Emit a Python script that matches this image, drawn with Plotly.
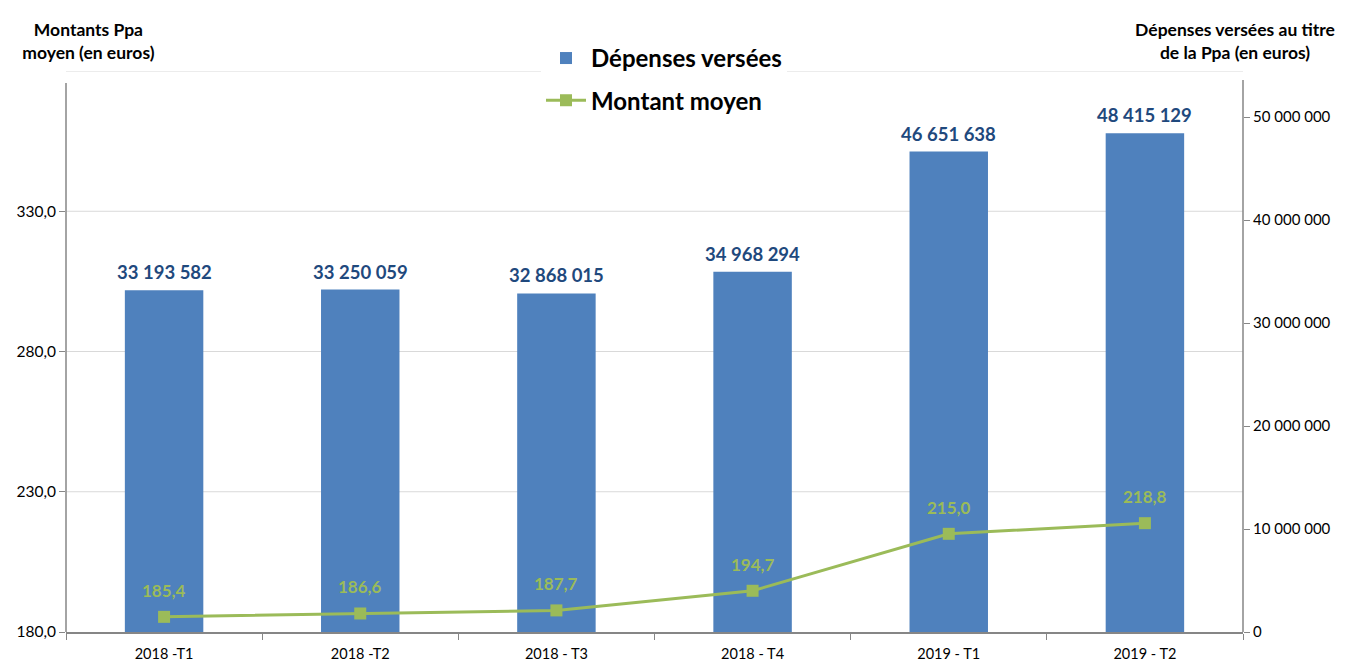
import plotly.graph_objects as go

categories = ["2018 -T1", "2018 -T2", "2018 - T3", "2018 - T4", "2019 - T1", "2019 - T2"]
depenses = [33193582, 33250059, 32868015, 34968294, 46651638, 48415129]
montant_moyen = [185.4, 186.6, 187.7, 194.7, 215.0, 218.8]
left_ticks = [180, 230, 280, 330, 380]
right_ticks = [0, 10000000, 20000000, 30000000, 40000000, 50000000]

BLUE = "#4F81BD"
GREEN = "#9BBB59"
LABEL_BLUE = "#1F497D"
AXIS = "#868686"
GRID = "#D9D9D9"
FONT = "Lato"


def fr_int(v):
    return f"{v:,}".replace(",", " ")


def fr_dec(v):
    return f"{v:.1f}".replace(".", ",")


fig = go.Figure()
fig.add_trace(go.Bar(
    x=categories, y=depenses, name="<b>Dépenses versées</b>",
    marker=dict(color=BLUE, line=dict(width=0)),
    yaxis="y", legendgroup="a",
))
fig.add_trace(go.Scatter(
    x=categories, y=montant_moyen, name="<b>Montant moyen</b>",
    mode="lines+markers",
    line=dict(color=GREEN, width=3),
    marker=dict(symbol="square", size=12, color=GREEN),
    yaxis="y2", legendgroup="b",
))

annotations = []
for c, v in zip(categories, depenses):
    annotations.append(dict(
        x=c, y=v, xref="x", yref="y", text=f"<b>{fr_int(v)}</b>",
        showarrow=False, yanchor="bottom", yshift=5,
        font=dict(family=FONT, size=18.5, color=LABEL_BLUE),
    ))
for c, v in zip(categories, montant_moyen):
    annotations.append(dict(
        x=c, y=v, xref="x", yref="y2", text=f"<b>{fr_dec(v)}</b>",
        showarrow=False, yanchor="bottom", yshift=14,
        font=dict(family=FONT, size=17, color=GREEN),
    ))

annotations.append(dict(
    xref="paper", yref="paper", x=(88 - 66) / 1177, y=(631 - 17) / 560,
    text="<b>Montants Ppa<br>moyen (en euros)</b>", showarrow=False,
    xanchor="center", yanchor="top", align="center",
    font=dict(family=FONT, size=17.5, color="#000000"),
    bgcolor="white", width=185,
))
annotations.append(dict(
    xref="paper", yref="paper", x=(1235 - 66) / 1177, y=(631 - 17) / 560,
    text="<b>Dépenses versées au titre<br>de la Ppa (en euros)</b>", showarrow=False,
    xanchor="center", yanchor="top", align="center",
    font=dict(family=FONT, size=17.5, color="#000000"),
    bgcolor="white", width=262,
))

shapes = [
    dict(type="line", xref="paper", yref="paper", x0=0, x1=0,
         y0=0, y1=(631 - 83) / 560, line=dict(color=AXIS, width=1.5)),
    dict(type="line", xref="paper", yref="paper", x0=1, x1=1,
         y0=0, y1=(631 - 80) / 560, line=dict(color=AXIS, width=1.5)),
]

fig.update_layout(
    width=1345, height=663,
    margin=dict(l=66, r=102, t=71, b=31),
    paper_bgcolor="white", plot_bgcolor="white",
    separators=", ",
    font=dict(family=FONT, size=14, color="#000000"),
    bargap=0.6,
    showlegend=True,
    legend=dict(
        x=(541 - 66) / 1177, y=(631 - 36) / 560, xanchor="left", yanchor="top",
        bgcolor="white", font=dict(family=FONT, size=24, color="#000000"),
        traceorder="grouped", tracegroupgap=8, itemwidth=40,
    ),
    xaxis=dict(
        type="category", categoryorder="array", categoryarray=categories,
        showline=True, linecolor=AXIS, linewidth=1.5,
        ticks="outside", ticklen=6, tickcolor=AXIS, tickson="boundaries",
        tickfont=dict(family=FONT, size=14.5, color="#000000"),
        ticklabelstandoff=8, automargin=False,
        showgrid=False, range=[-0.5, 5.5],
    ),
    yaxis=dict(
        side="right", range=[0, 54470000], tickvals=right_ticks,
        ticktext=[fr_int(t) for t in right_ticks],
        showgrid=False, zeroline=False, showline=False,
        ticks="outside", ticklen=6, tickcolor=AXIS,
        tickfont=dict(family=FONT, size=15, color="#000000"),
    ),
    yaxis2=dict(
        overlaying="y", side="left", range=[180, 380], tickvals=left_ticks[:-1],
        ticktext=[fr_dec(t) for t in left_ticks[:-1]],
        showgrid=False, zeroline=False, showline=False,
        ticks="outside", ticklen=6, tickcolor=AXIS,
        tickfont=dict(family=FONT, size=15.5, color="#000000"),
    ),
    annotations=annotations,
)

for t in left_ticks[1:]:
    shapes.append(dict(type="line", xref="paper", yref="y2", x0=0, x1=1, y0=t, y1=t,
                       line=dict(color=GRID, width=1), layer="below"))
fig.update_layout(shapes=shapes)

fig.write_html("out.html", config={"displayModeBar": False},
               post_script="document.body.style.margin='0';")
